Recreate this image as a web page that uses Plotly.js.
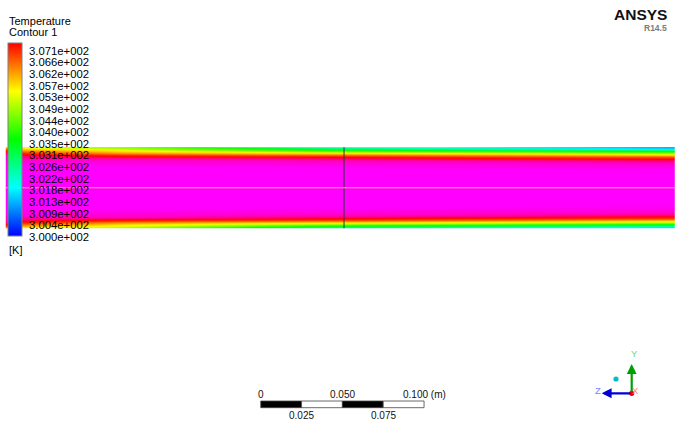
<!DOCTYPE html>
<html>
<head>
<meta charset="utf-8">
<script src="https://cdn.plot.ly/plotly-3.0.1.min.js"></script>
<style>html,body{margin:0;padding:0;background:#fff;}#chart{width:675px;height:423px;}</style>
</head>
<body>
<div id="chart"></div>
<script>
// ---------------- data ----------------
const pipeRadius = 0.0248; // m
// distance from the wall (mm), last entry = centre line
const wallDistMm = [0, 0.1, 0.6, 1.2, 1.8, 2.5, 3.1, 3.7, 4.3, 4.9, 5.5, 6.1, 7.4, 9.0, 12.0, 17.0, 24.8];
// axial stations (m)
const stationX = [0, 0.0003, 0.01, 0.07, 0.2, 0.42];
// temperature profiles (K) at each station, wall -> centre
const tInlet = [305.8, 305.8, 306.2, 306.6, 306.9, 307.1, 307.2, 307.3, 307.4, 307.5, 307.6, 307.7, 307.9, 308.2, 308.6, 308.9, 309.0];
const tX010  = [305.0, 305.0, 305.4, 305.8, 306.1, 306.4, 306.7, 306.9, 307.1, 307.2, 307.3, 307.4, 307.6, 308.0, 308.5, 308.8, 309.0];
const tX070  = [304.3, 304.3, 304.8, 305.1, 305.4, 305.6, 305.9, 306.2, 306.6, 306.9, 307.1, 307.3, 307.6, 308.0, 308.5, 308.8, 309.0];
const tX200  = [302.2, 302.2, 302.8, 303.3, 303.8, 304.5, 305.1, 305.6, 306.1, 306.6, 306.9, 307.1, 307.4, 307.8, 308.4, 308.8, 309.0];
const tX420  = [300.8, 300.8, 301.5, 302.1, 302.8, 303.4, 304.1, 304.7, 305.3, 305.8, 306.3, 306.7, 307.1, 307.5, 308.2, 308.7, 309.0];
const profiles = [tInlet, tInlet, tX010, tX070, tX200, tX420];

const legendMin = 300.0, legendMax = 307.1;
const tickLabels = ["3.071e+002","3.066e+002","3.062e+002","3.057e+002","3.053e+002","3.049e+002",
  "3.044e+002","3.040e+002","3.035e+002","3.031e+002","3.026e+002","3.022e+002","3.018e+002",
  "3.013e+002","3.009e+002","3.004e+002","3.000e+002"];
const sliceX = 0.207; // m, position of the plane line
const scaleStart = 0.156; // m
const scaleSeg = 0.025;   // m
const scaleTop = ["0", "0.050", "0.100 (m)"];
const scaleBottom = ["0.025", "0.075"];

// ---------------- build grid ----------------
const n = wallDistMm.length;
const ys = [], zs = [];
for (let i = 0; i < n; i++) {
  ys.push(-pipeRadius + wallDistMm[i] / 1000);
  zs.push(profiles.map(p => p[i]));
}
for (let i = n - 2; i >= 0; i--) {
  ys.push(pipeRadius - wallDistMm[i] / 1000);
  zs.push(profiles.map(p => p[i]));
}

// ---------------- layout helpers ----------------
const W = 675, H = 423;
const PXM = 1633; // pixels per metre
const x0px = 6, ycpx = 187.8;
const xp = px => px / W;
const yp = py => 1 - py / H;
const FONT = "Liberation Sans, Arial, sans-serif";

const zMaxPipe = 309;
const f = v => (v - legendMin) / (zMaxPipe - legendMin);
const pipeScale = [
  [0, "rgb(0,0,255)"],
  [f(301.775), "rgb(0,255,255)"],
  [f(303.55), "rgb(0,255,0)"],
  [f(305.325), "rgb(255,255,0)"],
  [f(306.2), "rgb(255,135,0)"],
  [f(307.1), "rgb(255,0,0)"],
  [f(307.25), "rgb(255,0,110)"],
  [f(307.6), "rgb(255,0,200)"],
  [f(308.5), "rgb(255,0,255)"],
  [1, "rgb(255,0,255)"]
];
const legendScale = [
  [0, "rgb(0,0,255)"], [0.25, "rgb(0,255,255)"], [0.5, "rgb(0,255,0)"],
  [0.75, "rgb(255,255,0)"], [1, "rgb(255,0,0)"]
];

const traces = [
  {
    type: "heatmap", x: stationX, y: ys, z: zs,
    zmin: legendMin, zmax: zMaxPipe, colorscale: pipeScale,
    zsmooth: "best", showscale: false, hoverinfo: "skip"
  },
  {
    type: "scatter", mode: "markers", x: [-1], y: [-1], hoverinfo: "skip",
    marker: {
      color: [legendMin], cmin: legendMin, cmax: legendMax, colorscale: legendScale,
      showscale: true,
      colorbar: {
        x: xp(8), xanchor: "left", xpad: 0,
        y: yp(42.7), yanchor: "top", ypad: 0,
        len: 192.5, lenmode: "pixels",
        thickness: 14, thicknessmode: "pixels",
        outlinewidth: 1, outlinecolor: "#808080",
        showticklabels: false, ticks: "", borderwidth: 0
      }
    },
    showlegend: false
  }
];

const shapes = [];
const annotations = [];

// plane line and centre line
shapes.push({type: "line", xref: "x", yref: "y", x0: sliceX, x1: sliceX, y0: -pipeRadius, y1: pipeRadius,
  line: {color: "#333333", width: 1}});
shapes.push({type: "line", xref: "x", yref: "y", x0: 0, x1: 0.42, y0: 0, y1: 0,
  line: {color: "rgb(255,170,140)", width: 1}});

// colour legend labels
const lblTop = 50.7, lblStep = 11.64;
tickLabels.forEach((t, i) => {
  annotations.push({xref: "paper", yref: "paper", x: xp(26.5), y: yp(lblTop + i * lblStep),
    xanchor: "left", yanchor: "middle", text: t, showarrow: false,
    font: {family: FONT, size: 11.3, color: "#000"}});
});
annotations.push({xref: "paper", yref: "paper", x: xp(6.8), y: yp(20.7), xanchor: "left", yanchor: "middle",
  text: "Temperature", showarrow: false, font: {family: FONT, size: 11, color: "#000"}});
annotations.push({xref: "paper", yref: "paper", x: xp(6.8), y: yp(31.5), xanchor: "left", yanchor: "middle",
  text: "Contour 1", showarrow: false, font: {family: FONT, size: 11, color: "#000"}});
annotations.push({xref: "paper", yref: "paper", x: xp(6.8), y: yp(249.5), xanchor: "left", yanchor: "middle",
  text: "[K]", showarrow: false, font: {family: FONT, size: 11, color: "#000"}});

// ANSYS logo text
annotations.push({xref: "paper", yref: "paper", x: xp(668.5), y: yp(14.3), xanchor: "right", yanchor: "middle",
  text: "<b>ANSYS</b>", showarrow: false,
  font: {family: FONT, size: 15.5, color: "#111"}});
annotations.push({xref: "paper", yref: "paper", x: xp(668.5), y: yp(27.5), xanchor: "right", yanchor: "middle",
  text: "<b>R14.5</b>", showarrow: false, font: {family: FONT, size: 8.5, color: "#7a7a7a"}});

// scale bar
for (let k = 0; k < 4; k++) {
  shapes.push({type: "rect", xref: "x", yref: "paper",
    x0: scaleStart + k * scaleSeg, x1: scaleStart + (k + 1) * scaleSeg,
    y0: yp(407.7), y1: yp(401),
    fillcolor: k % 2 === 0 ? "#000" : "#fff", line: {color: "#444", width: 0.8}});
}
scaleTop.forEach((t, i) => {
  annotations.push({xref: "x", yref: "paper", x: scaleStart + i * 2 * scaleSeg, y: yp(394),
    xanchor: "center", yanchor: "middle", text: t, showarrow: false,
    font: {family: FONT, size: 10, color: "#111"}});
});
scaleBottom.forEach((t, i) => {
  annotations.push({xref: "x", yref: "paper", x: scaleStart + (2 * i + 1) * scaleSeg, y: yp(415),
    xanchor: "center", yanchor: "middle", text: t, showarrow: false,
    font: {family: FONT, size: 10, color: "#111"}});
});

// axis triad
const ox = 631.7, oy = 393.3;
annotations.push({xref: "paper", yref: "paper", x: xp(ox), y: yp(364), ax: 0, ay: 29,
  text: "", showarrow: true, arrowhead: 2, arrowsize: 0.9, arrowwidth: 2.2, arrowcolor: "rgb(0,160,0)"});
annotations.push({xref: "paper", yref: "paper", x: xp(601.7), y: yp(oy), ax: 30, ay: 0,
  text: "", showarrow: true, arrowhead: 2, arrowsize: 0.9, arrowwidth: 2.2, arrowcolor: "rgb(0,0,210)"});
shapes.push({type: "circle", xref: "paper", yref: "paper", x0: xp(ox - 2.6), x1: xp(ox + 2.6),
  y0: yp(oy + 2.6), y1: yp(oy - 2.6), fillcolor: "rgb(230,0,0)", line: {width: 0}});
shapes.push({type: "circle", xref: "paper", yref: "paper", x0: xp(616 - 2.6), x1: xp(616 + 2.6),
  y0: yp(379 + 2.6), y1: yp(379 - 2.6), fillcolor: "rgb(0,190,200)", line: {width: 0}});
annotations.push({xref: "paper", yref: "paper", x: xp(634.5), y: yp(353.5), xanchor: "center", yanchor: "middle",
  text: "Y", showarrow: false, font: {family: FONT, size: 9.5, color: "rgb(120,215,120)"}});
annotations.push({xref: "paper", yref: "paper", x: xp(597.7), y: yp(390.7), xanchor: "center", yanchor: "middle",
  text: "Z", showarrow: false, font: {family: FONT, size: 9.5, color: "rgb(130,130,255)"}});
annotations.push({xref: "paper", yref: "paper", x: xp(635.5), y: yp(390.7), xanchor: "center", yanchor: "middle",
  text: "X", showarrow: false, font: {family: FONT, size: 9.5, color: "rgb(255,130,130)"}});

const layout = {
  width: W, height: H,
  margin: {l: 0, r: 0, t: 0, b: 0, pad: 0},
  paper_bgcolor: "#fff", plot_bgcolor: "#fff",
  showlegend: false,
  xaxis: {range: [-x0px / PXM, (W - x0px) / PXM], visible: false, fixedrange: true},
  yaxis: {range: [(ycpx - H) / PXM, ycpx / PXM], visible: false, fixedrange: true},
  shapes: shapes,
  annotations: annotations
};

Plotly.newPlot("chart", traces, layout, {staticPlot: true, displayModeBar: false});
</script>
</body>
</html>
